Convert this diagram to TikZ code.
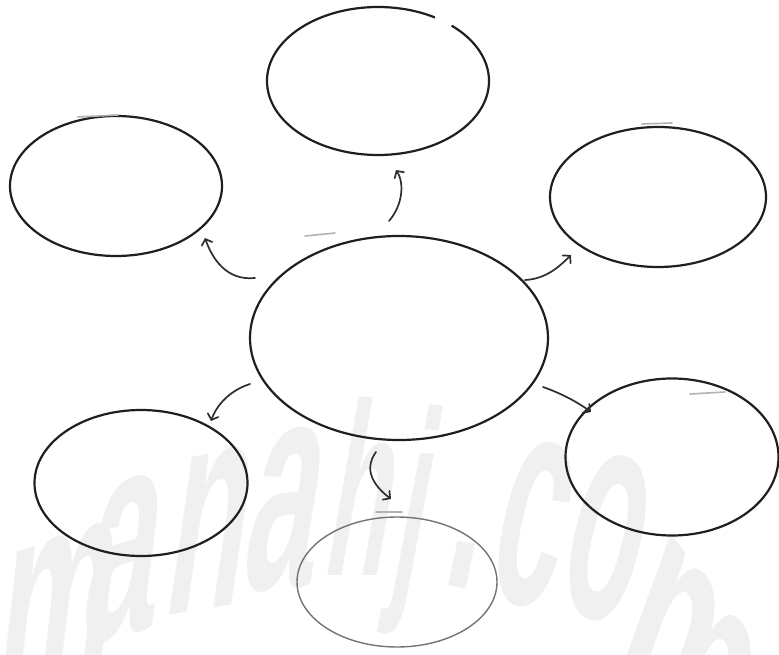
\documentclass[tikz,border=0pt]{standalone}
\usepackage{fontspec}
\newfontfamily\wmfont{Liberation Sans}
\usetikzlibrary{shapes.geometric,arrows.meta}
\begin{document}
\begin{tikzpicture}[x=1pt,y=-1pt,
  bubble/.style={ellipse, draw=black!88, line width=2.2pt, inner sep=0pt, fill=none},
  lightbubble/.style={bubble, draw=black!55, line width=1.4pt},
  overshoot/.style={draw=black!30, line width=1.6pt, line cap=round},
  link/.style={draw=black!82, line width=1.7pt, line cap=round,
    -{Straight Barb[length=5pt,width=11pt,line cap=round]}},
  wm/.style={text=black!6, font=\wmfont\bfseries\fontsize{300}{300}\selectfont,
    anchor=base west, inner sep=0pt, transform shape, xscale=0.42, xslant=0.42}]
\useasboundingbox (0,0) rectangle (779,655);
\fill[white] (0,0) rectangle (779,655);
% watermark
\path (-10,712) node[wm, rotate=8] {m};
\path (78,646) node[wm, rotate=6] {a};
\path (160,617) node[wm, rotate=4] {n};
\path (238,592) node[wm, rotate=2] {a};
\path (320,575) node[wm, scale=0.82] {h};
\path (388,582) node[wm, rotate=-2, scale=0.82] {j};
\path (440,584) node[wm, rotate=-4] {.};
\path (483,594) node[wm, rotate=-6] {c};
\path (553,600) node[wm, rotate=-10] {o};
\path (610,668) node[wm, rotate=-24, xscale=1.25] {m};
% bubbles
\node[bubble, minimum width=298pt, minimum height=204pt] (center) at (399,338) {};
\node[bubble, minimum width=222pt, minimum height=148pt] (top) at (378,81) {};
\node[bubble, minimum width=212pt, minimum height=140pt] (tl) at (116,186) {};
\node[bubble, minimum width=216pt, minimum height=140pt] (tr) at (658,197) {};
\node[bubble, minimum width=213pt, minimum height=146pt] (bl) at (141,483) {};
\node[bubble, minimum width=213pt, minimum height=157pt] (br) at (672,457) {};
\node[lightbubble, minimum width=200pt, minimum height=130pt] (bot) at (397,582) {};
% gap in the top bubble
\fill[white] (444,20) circle (9.5);
% light overshoot strokes
\draw[overshoot] (78,117) -- (118,115);
\draw[overshoot] (642,124) -- (672,123);
\draw[overshoot] (376,512) -- (402,512);
\draw[overshoot] (305,236) -- (335,233);
\draw[overshoot] (690,394) -- (725,392);
% arrows
\coordinate (uT) at (389,221); \coordinate (uH) at (396,170);
\coordinate (lT) at (255,278); \coordinate (lH) at (205,238);
\coordinate (rT) at (525,280); \coordinate (rH) at (571,255);
\coordinate (blT) at (250,384); \coordinate (blH) at (211,421);
\coordinate (bT) at (376,452); \coordinate (bH) at (391,499);
\coordinate (brT) at (543,387); \coordinate (brH) at (591,412);
\draw[link] (uT) .. controls (402,206) and (405,184) .. (uH);
\draw[link] (lT) .. controls (226,281) and (212,258) .. (lH);
\draw[link] (rT) .. controls (545,279) and (558,268) .. (rH);
\draw[link] (blT) .. controls (231,390) and (217,404) .. (blH);
\draw[link] (bT) .. controls (363,470) and (374,486) .. (bH);
\draw[link] (brT) .. controls (560,393) and (576,401) .. (brH);
\end{tikzpicture}
\end{document}
